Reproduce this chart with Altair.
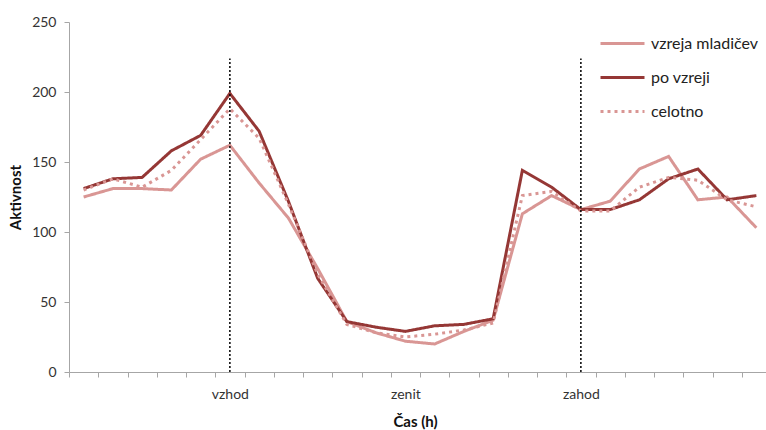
import altair as alt
import pandas as pd

hours = list(range(24))
series_names = ["vzreja mladičev", "po vzreji", "celotno"]
vzreja = [125, 131, 131, 130, 152, 162, 135, 110, 74, 36, 28, 22, 20, 29, 37, 113, 126, 116, 122, 145, 154, 123, 125, 103]
po_vzreji = [131, 138, 139, 158, 169, 199, 172, 122, 67, 36, 32, 29, 33, 34, 38, 144, 132, 116, 116, 123, 138, 145, 123, 126]
celotno = [130, 138, 132, 144, 166, 188, 167, 120, 70, 34, 28, 25, 27, 30, 35, 126, 129, 115, 115, 132, 139, 137, 123, 118]
event_hours = [5, 11, 17]
event_labels = ["vzhod", "zenit", "zahod"]
rule_hours = [5, 17]
rule_top = 224
y_ticks = [0, 50, 100, 150, 200, 250]

colors = ["#d99694", "#953735", "#d99694"]
dashes = [[1, 0], [1, 0], [3, 4]]

rows = []
for name, vals in zip(series_names, [vzreja, po_vzreji, celotno]):
    for h, v in zip(hours, vals):
        rows.append({"h": h, "serie": name, "v": v})
df = pd.DataFrame(rows)
ev = pd.DataFrame({"h": rule_hours, "y0": [0] * len(rule_hours), "y1": [rule_top] * len(rule_hours)})

label_expr = " : ".join(f"datum.value == {h} ? '{l}'" for h, l in zip(event_hours, event_labels)) + " : ''"

FONT = "Lato"
AX = "#a6a6a6"

xscale = alt.Scale(type="band", domain=hours, range=[0, 702], paddingInner=0, paddingOuter=0)
xaxis = alt.Axis(title="Čas (h)", labelExpr=label_expr, labelAngle=0, tickBand="extent",
                 tickSize=5, labelPadding=10, titlePadding=13, titleX=346, grid=False)
yscale = alt.Scale(domain=[0, 250])
yaxis = alt.Axis(title="Aktivnost", values=y_ticks, tickSize=5, labelPadding=8, titlePadding=8, grid=False)

legend = alt.Legend(title=None, orient="none", legendX=530, legendY=-2, symbolType="stroke",
                    symbolSize=1936, symbolStrokeWidth=3, labelFontSize=16, labelFont=FONT,
                    labelColor="#222", labelOffset=5, rowPadding=2)

lines = alt.Chart(df).mark_line(strokeWidth=3).encode(
    x=alt.X("h:O", scale=xscale, bandPosition=0.5, axis=xaxis),
    y=alt.Y("v:Q", scale=yscale, axis=yaxis),
    color=alt.Color("serie:N", scale=alt.Scale(domain=series_names, range=colors), legend=legend),
    strokeDash=alt.StrokeDash("serie:N", scale=alt.Scale(domain=series_names, range=dashes), legend=legend),
)

rules = alt.Chart(ev).mark_rule(color="black", strokeWidth=1.5, strokeDash=[2, 2]).encode(
    x=alt.X("h:O", scale=xscale, bandPosition=0.5, axis=xaxis),
    y=alt.Y("y0:Q", scale=yscale, axis=yaxis),
    y2="y1:Q",
)

chart = alt.layer(lines, rules).properties(
    width=697, height=350,
    autosize=alt.AutoSizeParams(type="none"),
    padding={"left": 69, "top": 22, "right": 0, "bottom": 58},
).configure_view(stroke=None).configure_axis(
    domainColor=AX, tickColor=AX, labelFont=FONT, titleFont=FONT, labelFontSize=14,
    labelColor="#333333", titleFontSize=15, titleFontWeight="bold", titleColor="#111111",
)

chart.save("out.html", embed_options={"renderer": "svg", "actions": False})
